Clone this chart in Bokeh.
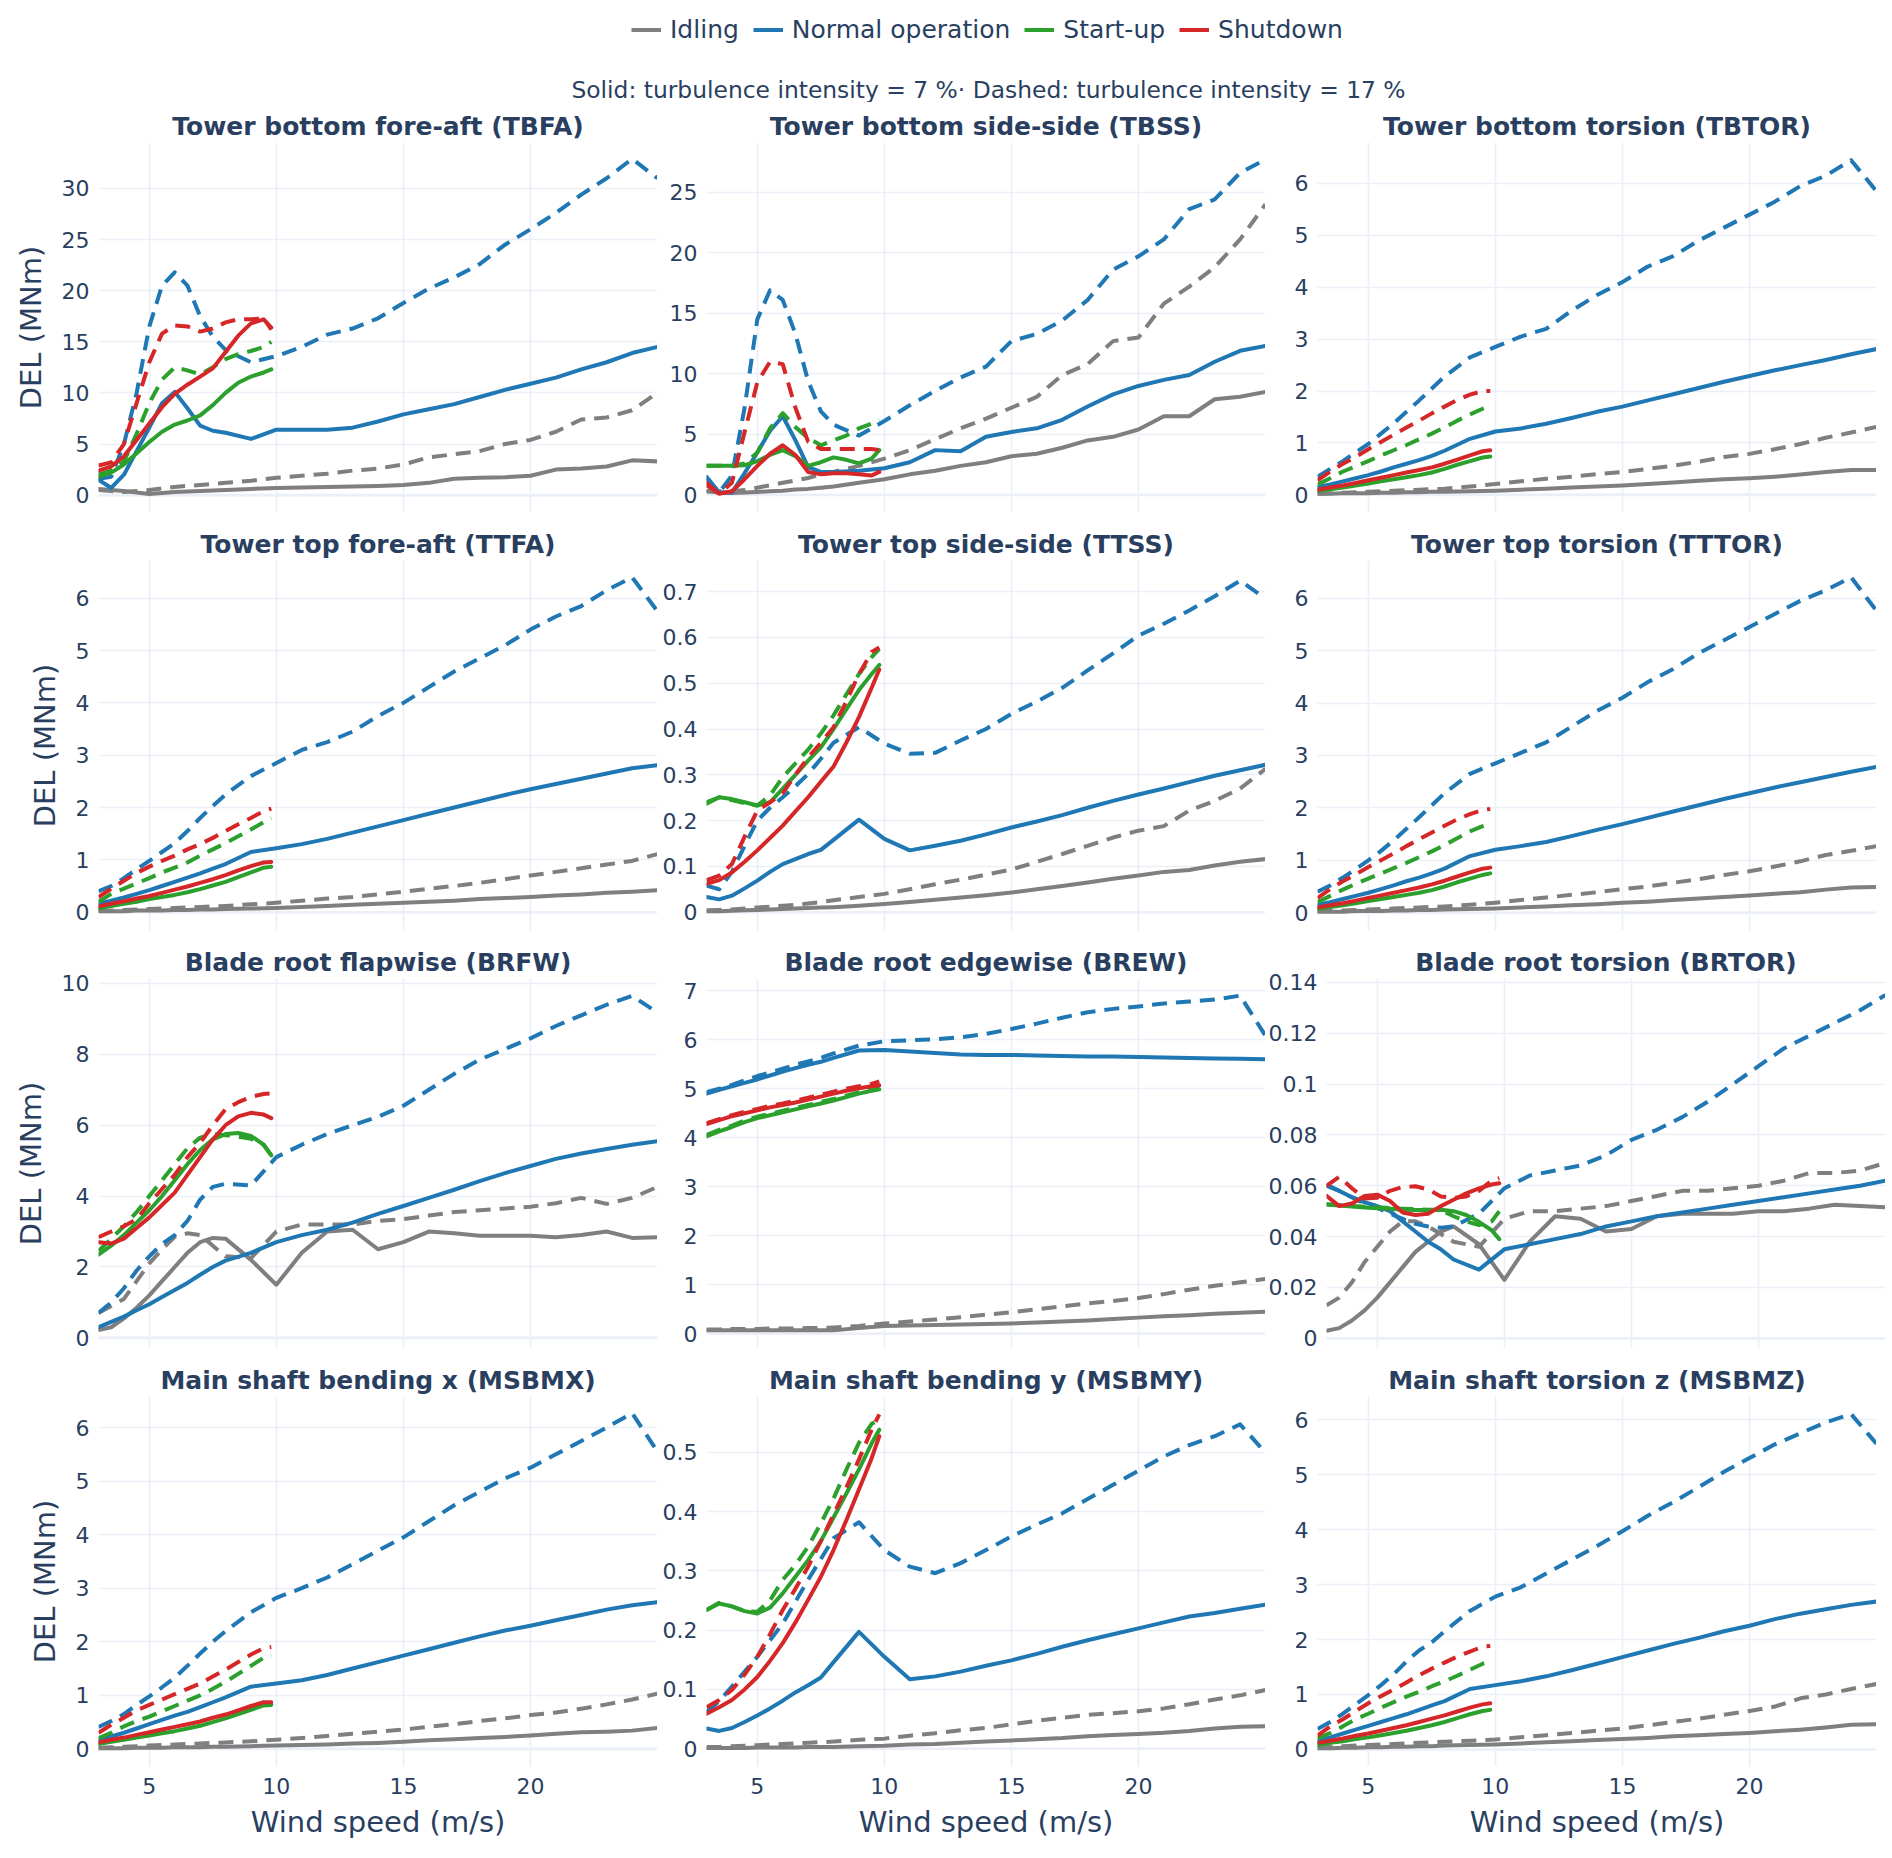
from bokeh.plotting import figure
from bokeh.layouts import column, row
from bokeh.models import (Range1d, FixedTicker, NumeralTickFormatter, Legend,
                          LegendItem, Label, Span)
from bokeh.embed import file_html
from bokeh.resources import INLINE

# ---------------- data ----------------
WS = [3, 3.5, 4, 4.5, 5, 5.5, 6, 6.5, 7, 7.5, 8, 9, 10, 11, 12, 13, 14, 15, 16, 17, 18, 19, 20, 21, 22, 23, 24, 25]
WT = [3, 3.5, 4, 4.5, 5, 5.5, 6, 6.5, 7, 7.5, 8, 8.5, 9, 9.5, 9.8]

MODES = ["Idling", "Normal operation", "Start-up", "Shutdown"]
COLORS = ["#7f7f7f", "#1f77b4", "#2ca02c", "#d62728"]

PANEL_KEYS = ["TBFA", "TBSS", "TBTOR", "TTFA", "TTSS", "TTTOR",
              "BRFW", "BREW", "BRTOR", "MSBMX", "MSBMY", "MSBMZ"]
PANEL_TITLES = ["Tower bottom fore-aft (TBFA)", "Tower bottom side-side (TBSS)",
                "Tower bottom torsion (TBTOR)", "Tower top fore-aft (TTFA)",
                "Tower top side-side (TTSS)", "Tower top torsion (TTTOR)",
                "Blade root flapwise (BRFW)", "Blade root edgewise (BREW)",
                "Blade root torsion (BRTOR)", "Main shaft bending x (MSBMX)",
                "Main shaft bending y (MSBMY)", "Main shaft torsion z (MSBMZ)"]
Y_RANGES = [(-1.7, 34.5), (-1.45, 29.1), (-0.34, 6.79),
            (-0.35, 6.72), (-0.04, 0.768), (-0.34, 6.72),
            (-0.3, 10.14), (-0.3, 7.25), (-0.004, 0.1415),
            (-0.33, 6.58), (-0.03, 0.594), (-0.31, 6.42)]
Y_TICKS = [[0, 5, 10, 15, 20, 25, 30], [0, 5, 10, 15, 20, 25], [0, 1, 2, 3, 4, 5, 6],
           [0, 1, 2, 3, 4, 5, 6], [0, 0.1, 0.2, 0.3, 0.4, 0.5, 0.6, 0.7], [0, 1, 2, 3, 4, 5, 6],
           [0, 2, 4, 6, 8, 10], [0, 1, 2, 3, 4, 5, 6, 7], [0, 0.02, 0.04, 0.06, 0.08, 0.1, 0.12, 0.14],
           [0, 1, 2, 3, 4, 5, 6], [0, 0.1, 0.2, 0.3, 0.4, 0.5], [0, 1, 2, 3, 4, 5, 6]]
X_TICKS = [5, 10, 15, 20]

SUBTITLE = "Solid: turbulence intensity = 7 %\u00b7 Dashed: turbulence intensity = 17 %"
X_LABEL = "Wind speed (m/s)"
Y_LABEL = "DEL (MNm)"

# TBFA
TBFA_IDL7 = [0.6, 0.5, 0.4, 0.25, 0.1, 0.2, 0.3, 0.35, 0.4, 0.45, 0.5, 0.6, 0.7, 0.75, 0.8, 0.85, 0.9, 1.0, 1.2, 1.6, 1.7, 1.75, 1.9, 2.5, 2.6, 2.8, 3.4, 3.3]
TBFA_IDL17 = [0.5, 0.4, 0.3, 0.4, 0.5, 0.65, 0.8, 0.9, 1.0, 1.1, 1.2, 1.4, 1.7, 1.9, 2.1, 2.4, 2.6, 3.0, 3.7, 4.0, 4.3, 5.0, 5.4, 6.2, 7.4, 7.6, 8.3, 10.0]
TBFA_NOR7 = [1.5, 0.7, 2.0, 4.3, 6.6, 9.0, 10.1, 8.5, 6.8, 6.3, 6.1, 5.5, 6.4, 6.4, 6.4, 6.6, 7.2, 7.9, 8.4, 8.9, 9.6, 10.3, 10.9, 11.5, 12.3, 13.0, 13.9, 14.5]
TBFA_NOR17 = [1.6, 1.8, 5.0, 10.0, 16.5, 20.5, 21.8, 20.5, 17.5, 15.5, 14.2, 13.0, 13.6, 14.5, 15.7, 16.3, 17.3, 18.8, 20.2, 21.3, 22.6, 24.5, 26.0, 27.6, 29.4, 31.0, 32.9, 31.0]
TBFA_SU7 = [1.8, 2.2, 3.0, 4.1, 5.2, 6.2, 6.9, 7.3, 7.8, 8.8, 10.0, 11.0, 11.6, 12.0, 12.3]
TBFA_SU17 = [2.0, 2.4, 3.3, 6.0, 9.0, 11.3, 12.5, 12.2, 11.8, 12.5, 13.3, 13.8, 14.1, 14.5, 15.0]
TBFA_SD7 = [2.4, 2.8, 3.8, 5.4, 7.0, 8.6, 9.9, 10.8, 11.6, 12.4, 14.0, 15.6, 16.8, 17.2, 16.4]
TBFA_SD17 = [2.9, 3.2, 5.0, 9.0, 13.0, 15.8, 16.6, 16.5, 16.0, 16.3, 16.9, 17.2, 17.2, 17.3, 16.2]

# TBSS
TBSS_IDL7 = [0.3, 0.2, 0.15, 0.2, 0.25, 0.3, 0.35, 0.45, 0.5, 0.6, 0.7, 1.0, 1.3, 1.7, 2.0, 2.4, 2.7, 3.2, 3.4, 3.9, 4.5, 4.8, 5.4, 6.5, 6.5, 7.9, 8.1, 8.5]
TBSS_IDL17 = [0.3, 0.3, 0.3, 0.4, 0.6, 0.8, 1.0, 1.2, 1.4, 1.7, 1.9, 2.4, 3.0, 3.7, 4.6, 5.5, 6.3, 7.2, 8.1, 9.9, 10.8, 12.7, 13.0, 15.8, 17.2, 18.8, 21.1, 24.0]
TBSS_NOR7 = [1.5, 0.2, 0.2, 1.8, 3.5, 5.3, 6.5, 4.5, 2.3, 1.9, 1.9, 2.0, 2.2, 2.7, 3.7, 3.6, 4.8, 5.2, 5.5, 6.2, 7.3, 8.3, 9.0, 9.5, 9.9, 11.0, 11.9, 12.3]
TBSS_NOR17 = [1.4, 0.2, 1.6, 7.2, 14.5, 16.9, 16.1, 13.3, 9.4, 6.9, 5.8, 4.9, 6.1, 7.4, 8.6, 9.7, 10.6, 12.7, 13.3, 14.4, 16.1, 18.6, 19.7, 21.1, 23.6, 24.4, 26.6, 27.7]
TBSS_SU7 = [2.4, 2.4, 2.4, 2.45, 2.8, 3.3, 3.7, 3.2, 2.4, 2.7, 3.1, 2.9, 2.6, 3.0, 3.7]
TBSS_SU17 = [2.4, 2.4, 2.4, 2.6, 3.5, 5.5, 6.75, 5.6, 4.7, 4.1, 4.5, 4.9, 5.5, 5.9, 6.2]
TBSS_SD7 = [1.0, 0.1, 0.3, 1.3, 2.4, 3.4, 4.1, 3.3, 1.9, 1.7, 1.8, 1.8, 1.7, 1.6, 1.9]
TBSS_SD17 = [0.8, 0.1, 1.0, 5.2, 9.3, 11.0, 10.8, 7.2, 4.4, 3.8, 3.8, 3.8, 3.8, 3.8, 3.7]

# TBTOR
TBTOR_IDL7 = [0.02, 0.02, 0.03, 0.03, 0.03, 0.04, 0.04, 0.05, 0.05, 0.06, 0.06, 0.07, 0.08, 0.1, 0.12, 0.14, 0.16, 0.18, 0.21, 0.24, 0.27, 0.3, 0.32, 0.35, 0.39, 0.44, 0.48, 0.48]
TBTOR_IDL17 = [0.02, 0.03, 0.04, 0.05, 0.06, 0.07, 0.08, 0.09, 0.1, 0.11, 0.12, 0.16, 0.21, 0.26, 0.31, 0.35, 0.4, 0.44, 0.5, 0.56, 0.64, 0.73, 0.79, 0.88, 0.98, 1.1, 1.2, 1.31]
TBTOR_NOR7 = [0.15, 0.2, 0.26, 0.32, 0.38, 0.45, 0.53, 0.6, 0.67, 0.75, 0.85, 1.08, 1.22, 1.28, 1.37, 1.48, 1.6, 1.7, 1.82, 1.94, 2.06, 2.18, 2.29, 2.4, 2.5, 2.6, 2.71, 2.81]
TBTOR_NOR17 = [0.35, 0.5, 0.65, 0.82, 0.98, 1.18, 1.38, 1.6, 1.82, 2.05, 2.28, 2.65, 2.85, 3.05, 3.2, 3.55, 3.85, 4.1, 4.4, 4.6, 4.9, 5.15, 5.4, 5.65, 5.95, 6.15, 6.45, 5.85]
TBTOR_SU7 = [0.08, 0.11, 0.14, 0.18, 0.22, 0.26, 0.3, 0.34, 0.38, 0.43, 0.5, 0.58, 0.65, 0.72, 0.74]
TBTOR_SU17 = [0.2, 0.32, 0.45, 0.55, 0.65, 0.76, 0.86, 0.96, 1.07, 1.18, 1.3, 1.43, 1.55, 1.66, 1.72]
TBTOR_SD7 = [0.1, 0.14, 0.18, 0.23, 0.28, 0.33, 0.38, 0.43, 0.48, 0.53, 0.6, 0.68, 0.76, 0.84, 0.86]
TBTOR_SD17 = [0.28, 0.45, 0.6, 0.73, 0.88, 1.02, 1.16, 1.3, 1.43, 1.57, 1.7, 1.83, 1.93, 2.0, 2.0]

# TTFA
TTFA_IDL7 = [0.02, 0.02, 0.02, 0.03, 0.03, 0.03, 0.04, 0.04, 0.05, 0.05, 0.06, 0.07, 0.08, 0.1, 0.12, 0.14, 0.16, 0.18, 0.2, 0.22, 0.25, 0.27, 0.29, 0.32, 0.34, 0.37, 0.39, 0.42]
TTFA_IDL17 = [0.03, 0.03, 0.04, 0.05, 0.06, 0.07, 0.08, 0.09, 0.1, 0.11, 0.12, 0.15, 0.18, 0.22, 0.26, 0.29, 0.34, 0.39, 0.45, 0.5, 0.56, 0.63, 0.7, 0.77, 0.84, 0.91, 0.98, 1.11]
TTFA_NOR7 = [0.16, 0.22, 0.28, 0.35, 0.42, 0.5, 0.58, 0.66, 0.74, 0.83, 0.92, 1.15, 1.22, 1.3, 1.4, 1.52, 1.64, 1.76, 1.88, 2.0, 2.12, 2.24, 2.35, 2.45, 2.55, 2.65, 2.75, 2.81]
TTFA_NOR17 = [0.4, 0.5, 0.65, 0.82, 0.98, 1.15, 1.32, 1.55, 1.8, 2.03, 2.25, 2.6, 2.85, 3.1, 3.25, 3.45, 3.75, 4.0, 4.3, 4.6, 4.85, 5.1, 5.4, 5.65, 5.85, 6.15, 6.4, 5.75]
TTFA_SU7 = [0.07, 0.12, 0.16, 0.2, 0.25, 0.29, 0.33, 0.38, 0.44, 0.51, 0.58, 0.67, 0.76, 0.85, 0.87]
TTFA_SU17 = [0.2, 0.35, 0.45, 0.55, 0.65, 0.76, 0.85, 0.95, 1.08, 1.2, 1.32, 1.45, 1.58, 1.72, 1.8]
TTFA_SD7 = [0.11, 0.16, 0.21, 0.26, 0.31, 0.37, 0.43, 0.49, 0.56, 0.63, 0.71, 0.8, 0.88, 0.95, 0.96]
TTFA_SD17 = [0.29, 0.45, 0.6, 0.75, 0.87, 0.98, 1.08, 1.2, 1.3, 1.42, 1.55, 1.68, 1.8, 1.93, 1.98]

# TTSS
TTSS_IDL7 = [0.002, 0.002, 0.003, 0.004, 0.005, 0.006, 0.007, 0.008, 0.009, 0.01, 0.011, 0.014, 0.018, 0.022, 0.027, 0.032, 0.037, 0.043, 0.05, 0.057, 0.065, 0.073, 0.08, 0.088, 0.092, 0.102, 0.11, 0.116]
TTSS_IDL17 = [0.004, 0.005, 0.006, 0.008, 0.01, 0.012, 0.014, 0.016, 0.019, 0.022, 0.026, 0.033, 0.04, 0.05, 0.061, 0.071, 0.082, 0.093, 0.11, 0.127, 0.145, 0.163, 0.178, 0.188, 0.222, 0.243, 0.27, 0.313]
TTSS_NOR7 = [0.033, 0.028, 0.036, 0.052, 0.069, 0.088, 0.105, 0.116, 0.127, 0.136, 0.158, 0.202, 0.16, 0.135, 0.145, 0.156, 0.17, 0.185, 0.198, 0.212, 0.228, 0.243, 0.257, 0.27, 0.284, 0.298, 0.31, 0.322]
TTSS_NOR17 = [0.058, 0.05, 0.088, 0.145, 0.2, 0.228, 0.251, 0.275, 0.302, 0.335, 0.37, 0.404, 0.368, 0.346, 0.348, 0.375, 0.4, 0.433, 0.46, 0.49, 0.528, 0.565, 0.604, 0.63, 0.659, 0.69, 0.724, 0.685]
TTSS_SU7 = [0.237, 0.251, 0.247, 0.24, 0.233, 0.24, 0.27, 0.3, 0.331, 0.36, 0.4, 0.443, 0.485, 0.52, 0.54]
TTSS_SU17 = [0.24, 0.251, 0.245, 0.238, 0.233, 0.255, 0.295, 0.325, 0.355, 0.39, 0.43, 0.475, 0.52, 0.557, 0.575]
TTSS_SD7 = [0.062, 0.07, 0.087, 0.11, 0.135, 0.162, 0.189, 0.22, 0.251, 0.285, 0.318, 0.37, 0.426, 0.49, 0.53]
TTSS_SD17 = [0.07, 0.08, 0.105, 0.165, 0.222, 0.24, 0.26, 0.3, 0.338, 0.37, 0.404, 0.46, 0.52, 0.568, 0.578]

# TTTOR
TTTOR_IDL7 = [0.02, 0.02, 0.02, 0.03, 0.03, 0.03, 0.04, 0.04, 0.05, 0.05, 0.06, 0.07, 0.08, 0.1, 0.12, 0.14, 0.16, 0.19, 0.21, 0.24, 0.27, 0.3, 0.33, 0.36, 0.39, 0.44, 0.48, 0.49]
TTTOR_IDL17 = [0.03, 0.03, 0.04, 0.05, 0.06, 0.07, 0.08, 0.09, 0.1, 0.11, 0.12, 0.15, 0.19, 0.24, 0.29, 0.34, 0.39, 0.45, 0.5, 0.57, 0.64, 0.72, 0.79, 0.88, 0.98, 1.1, 1.18, 1.27]
TTTOR_NOR7 = [0.15, 0.2, 0.26, 0.32, 0.38, 0.45, 0.52, 0.6, 0.67, 0.75, 0.84, 1.08, 1.2, 1.27, 1.35, 1.46, 1.58, 1.69, 1.81, 1.93, 2.05, 2.17, 2.28, 2.39, 2.49, 2.59, 2.69, 2.78]
TTTOR_NOR17 = [0.4, 0.52, 0.67, 0.83, 1.0, 1.18, 1.38, 1.6, 1.82, 2.05, 2.28, 2.65, 2.85, 3.05, 3.25, 3.55, 3.85, 4.1, 4.4, 4.65, 4.95, 5.2, 5.45, 5.7, 5.95, 6.15, 6.4, 5.76]
TTTOR_SU7 = [0.07, 0.11, 0.14, 0.18, 0.22, 0.26, 0.3, 0.34, 0.38, 0.43, 0.5, 0.58, 0.65, 0.72, 0.75]
TTTOR_SU17 = [0.2, 0.32, 0.44, 0.55, 0.65, 0.75, 0.85, 0.95, 1.06, 1.17, 1.29, 1.42, 1.55, 1.65, 1.7]
TTTOR_SD7 = [0.1, 0.14, 0.18, 0.23, 0.28, 0.33, 0.38, 0.43, 0.48, 0.54, 0.61, 0.69, 0.77, 0.84, 0.86]
TTTOR_SD17 = [0.28, 0.45, 0.6, 0.73, 0.87, 1.0, 1.13, 1.27, 1.4, 1.53, 1.66, 1.78, 1.88, 1.96, 1.98]

# BRFW
BRFW_IDL7 = [0.22, 0.3, 0.55, 0.85, 1.2, 1.6, 2.0, 2.4, 2.7, 2.82, 2.8, 2.2, 1.5, 2.4, 3.0, 3.05, 2.5, 2.7, 3.0, 2.95, 2.88, 2.88, 2.88, 2.84, 2.9, 3.0, 2.82, 2.84]
BRFW_IDL17 = [0.7, 0.9, 1.1, 1.6, 2.1, 2.5, 2.85, 2.95, 2.9, 2.6, 2.3, 2.25, 3.0, 3.2, 3.2, 3.2, 3.3, 3.35, 3.45, 3.55, 3.6, 3.65, 3.7, 3.8, 3.95, 3.78, 3.95, 4.26]
BRFW_NOR7 = [0.3, 0.45, 0.6, 0.78, 0.95, 1.15, 1.35, 1.55, 1.78, 2.0, 2.18, 2.4, 2.7, 2.9, 3.05, 3.25, 3.5, 3.72, 3.95, 4.18, 4.42, 4.65, 4.85, 5.05, 5.2, 5.33, 5.45, 5.55]
BRFW_NOR17 = [0.7, 1.0, 1.4, 1.9, 2.3, 2.65, 2.9, 3.3, 3.9, 4.26, 4.35, 4.3, 5.1, 5.45, 5.75, 6.0, 6.24, 6.55, 7.0, 7.45, 7.85, 8.15, 8.45, 8.8, 9.1, 9.4, 9.65, 9.18]
BRFW_SU7 = [2.35, 2.6, 2.9, 3.25, 3.6, 4.0, 4.45, 4.9, 5.3, 5.6, 5.75, 5.78, 5.7, 5.45, 5.15]
BRFW_SU17 = [2.45, 2.8, 3.15, 3.55, 4.0, 4.45, 4.9, 5.35, 5.65, 5.75, 5.72, 5.68, 5.62, 5.45, 5.15]
BRFW_SD7 = [2.7, 2.66, 2.8, 3.1, 3.4, 3.75, 4.1, 4.6, 5.1, 5.6, 6.0, 6.25, 6.35, 6.3, 6.2]
BRFW_SD17 = [2.84, 3.0, 3.15, 3.35, 3.8, 4.2, 4.6, 5.1, 5.5, 6.0, 6.45, 6.65, 6.8, 6.88, 6.9]

# BREW
BREW_IDL7 = [0.07, 0.07, 0.07, 0.07, 0.07, 0.07, 0.07, 0.07, 0.07, 0.07, 0.07, 0.12, 0.16, 0.17, 0.18, 0.19, 0.2, 0.21, 0.23, 0.25, 0.27, 0.3, 0.33, 0.36, 0.38, 0.41, 0.43, 0.45]
BREW_IDL17 = [0.09, 0.09, 0.1, 0.1, 0.1, 0.11, 0.11, 0.11, 0.12, 0.12, 0.13, 0.16, 0.21, 0.25, 0.29, 0.34, 0.39, 0.44, 0.5, 0.56, 0.62, 0.67, 0.73, 0.81, 0.9, 0.98, 1.05, 1.12]
BREW_NOR7 = [4.9, 4.98, 5.05, 5.12, 5.19, 5.27, 5.35, 5.42, 5.49, 5.55, 5.63, 5.78, 5.79, 5.76, 5.73, 5.7, 5.69, 5.69, 5.68, 5.67, 5.66, 5.66, 5.65, 5.64, 5.63, 5.62, 5.61, 5.6]
BREW_NOR17 = [4.93, 5.0, 5.08, 5.17, 5.26, 5.33, 5.41, 5.49, 5.56, 5.63, 5.72, 5.88, 5.97, 5.99, 6.01, 6.05, 6.12, 6.22, 6.33, 6.45, 6.56, 6.63, 6.68, 6.74, 6.78, 6.82, 6.9, 6.08]
BREW_SU7 = [4.03, 4.13, 4.22, 4.32, 4.4, 4.46, 4.52, 4.58, 4.64, 4.7, 4.76, 4.83, 4.9, 4.96, 4.99]
BREW_SU17 = [4.06, 4.16, 4.25, 4.35, 4.43, 4.49, 4.55, 4.61, 4.67, 4.73, 4.79, 4.86, 4.93, 4.99, 5.02]
BREW_SD7 = [4.28, 4.36, 4.44, 4.5, 4.56, 4.62, 4.67, 4.72, 4.78, 4.84, 4.9, 4.96, 5.01, 5.05, 5.07]
BREW_SD17 = [4.3, 4.38, 4.46, 4.53, 4.59, 4.65, 4.7, 4.76, 4.82, 4.88, 4.94, 5.0, 5.05, 5.1, 5.15]

# BRTOR
BRTOR_IDL7 = [0.003, 0.004, 0.007, 0.011, 0.016, 0.022, 0.028, 0.034, 0.038, 0.042, 0.044, 0.037, 0.023, 0.038, 0.048, 0.047, 0.042, 0.043, 0.048, 0.049, 0.049, 0.049, 0.05, 0.05, 0.051, 0.0525, 0.052, 0.0515]
BRTOR_IDL17 = [0.013, 0.016, 0.022, 0.03, 0.036, 0.042, 0.046, 0.046, 0.044, 0.041, 0.038, 0.036, 0.047, 0.05, 0.05, 0.051, 0.052, 0.054, 0.056, 0.058, 0.058, 0.059, 0.06, 0.062, 0.065, 0.065, 0.066, 0.069]
BRTOR_NOR7 = [0.06, 0.058, 0.0555, 0.0535, 0.052, 0.05, 0.046, 0.042, 0.038, 0.035, 0.031, 0.027, 0.035, 0.037, 0.039, 0.041, 0.044, 0.046, 0.048, 0.0495, 0.051, 0.0525, 0.054, 0.0555, 0.057, 0.0585, 0.06, 0.062]
BRTOR_NOR17 = [0.0605, 0.058, 0.0555, 0.053, 0.0513, 0.049, 0.047, 0.045, 0.044, 0.0435, 0.044, 0.049, 0.059, 0.064, 0.066, 0.068, 0.072, 0.078, 0.082, 0.087, 0.093, 0.1, 0.107, 0.114, 0.119, 0.124, 0.129, 0.135]
BRTOR_SU7 = [0.0526, 0.0522, 0.0518, 0.0514, 0.0512, 0.051, 0.0506, 0.0505, 0.0505, 0.0506, 0.05, 0.0485, 0.0458, 0.0425, 0.039]
BRTOR_SU17 = [0.0527, 0.0524, 0.052, 0.0517, 0.0515, 0.0512, 0.051, 0.0508, 0.0506, 0.0505, 0.048, 0.046, 0.0445, 0.046, 0.05]
BRTOR_SD7 = [0.056, 0.052, 0.053, 0.056, 0.0565, 0.054, 0.0495, 0.0485, 0.049, 0.052, 0.0545, 0.057, 0.059, 0.0605, 0.061]
BRTOR_SD17 = [0.06, 0.0635, 0.059, 0.055, 0.0553, 0.058, 0.0595, 0.0598, 0.0585, 0.0558, 0.0552, 0.0558, 0.058, 0.062, 0.063]

# MSBMX
MSBMX_IDL7 = [0.01, 0.01, 0.01, 0.02, 0.02, 0.02, 0.03, 0.03, 0.03, 0.04, 0.04, 0.05, 0.06, 0.07, 0.08, 0.1, 0.11, 0.13, 0.16, 0.18, 0.2, 0.22, 0.25, 0.28, 0.31, 0.32, 0.34, 0.39]
MSBMX_IDL17 = [0.02, 0.03, 0.04, 0.05, 0.06, 0.07, 0.08, 0.09, 0.1, 0.11, 0.12, 0.14, 0.17, 0.2, 0.24, 0.28, 0.32, 0.36, 0.41, 0.46, 0.52, 0.57, 0.63, 0.68, 0.75, 0.83, 0.92, 1.03]
MSBMX_NOR7 = [0.16, 0.23, 0.3, 0.38, 0.46, 0.54, 0.62, 0.69, 0.78, 0.87, 0.96, 1.16, 1.22, 1.28, 1.38, 1.5, 1.62, 1.74, 1.86, 1.98, 2.1, 2.21, 2.3, 2.4, 2.5, 2.6, 2.68, 2.74]
MSBMX_NOR17 = [0.41, 0.52, 0.65, 0.82, 0.98, 1.15, 1.33, 1.55, 1.78, 2.0, 2.2, 2.55, 2.82, 3.0, 3.2, 3.45, 3.7, 3.95, 4.25, 4.55, 4.8, 5.05, 5.25, 5.5, 5.75, 6.0, 6.27, 5.55]
MSBMX_SU7 = [0.09, 0.13, 0.17, 0.21, 0.25, 0.29, 0.33, 0.38, 0.43, 0.5, 0.57, 0.65, 0.73, 0.81, 0.82]
MSBMX_SU17 = [0.2, 0.3, 0.42, 0.52, 0.6, 0.7, 0.8, 0.9, 1.0, 1.12, 1.25, 1.4, 1.55, 1.7, 1.75]
MSBMX_SD7 = [0.12, 0.17, 0.21, 0.26, 0.31, 0.36, 0.41, 0.46, 0.51, 0.58, 0.64, 0.72, 0.8, 0.87, 0.87]
MSBMX_SD17 = [0.3, 0.45, 0.58, 0.72, 0.82, 0.92, 1.02, 1.12, 1.22, 1.35, 1.48, 1.62, 1.76, 1.88, 1.9]

# MSBMY
MSBMY_IDL7 = [0.001, 0.001, 0.001, 0.001, 0.002, 0.002, 0.002, 0.002, 0.003, 0.003, 0.003, 0.004, 0.005, 0.007, 0.008, 0.01, 0.012, 0.014, 0.016, 0.018, 0.021, 0.023, 0.025, 0.027, 0.03, 0.034, 0.037, 0.038]
MSBMY_IDL17 = [0.003, 0.003, 0.004, 0.005, 0.006, 0.007, 0.008, 0.009, 0.01, 0.011, 0.012, 0.015, 0.017, 0.022, 0.026, 0.031, 0.035, 0.041, 0.047, 0.052, 0.057, 0.06, 0.063, 0.068, 0.075, 0.083, 0.09, 0.099]
MSBMY_NOR7 = [0.034, 0.03, 0.035, 0.045, 0.056, 0.068, 0.081, 0.095, 0.107, 0.12, 0.146, 0.197, 0.155, 0.117, 0.122, 0.13, 0.14, 0.149, 0.16, 0.172, 0.183, 0.193, 0.203, 0.213, 0.223, 0.229, 0.236, 0.243]
MSBMY_NOR17 = [0.062, 0.08, 0.105, 0.13, 0.155, 0.183, 0.211, 0.248, 0.285, 0.32, 0.355, 0.382, 0.335, 0.307, 0.296, 0.313, 0.335, 0.358, 0.378, 0.397, 0.421, 0.445, 0.469, 0.493, 0.512, 0.527, 0.547, 0.499]
MSBMY_SU7 = [0.234, 0.245, 0.24, 0.232, 0.228, 0.238, 0.262, 0.29, 0.318, 0.35, 0.39, 0.43, 0.471, 0.515, 0.538]
MSBMY_SU17 = [0.234, 0.246, 0.24, 0.232, 0.231, 0.25, 0.285, 0.31, 0.341, 0.38, 0.422, 0.47, 0.516, 0.548, 0.555]
MSBMY_SD7 = [0.059, 0.07, 0.082, 0.1, 0.121, 0.148, 0.178, 0.213, 0.251, 0.29, 0.335, 0.385, 0.437, 0.49, 0.527]
MSBMY_SD17 = [0.07, 0.082, 0.099, 0.125, 0.155, 0.193, 0.234, 0.27, 0.307, 0.35, 0.395, 0.44, 0.488, 0.538, 0.564]

# MSBMZ
MSBMZ_IDL7 = [0.02, 0.02, 0.03, 0.03, 0.04, 0.04, 0.05, 0.05, 0.06, 0.06, 0.07, 0.08, 0.09, 0.11, 0.13, 0.15, 0.17, 0.19, 0.21, 0.24, 0.26, 0.28, 0.3, 0.33, 0.36, 0.4, 0.45, 0.46]
MSBMZ_IDL17 = [0.04, 0.05, 0.06, 0.07, 0.08, 0.09, 0.1, 0.11, 0.12, 0.13, 0.14, 0.16, 0.18, 0.22, 0.26, 0.3, 0.34, 0.38, 0.44, 0.5, 0.56, 0.63, 0.7, 0.78, 0.93, 1.0, 1.1, 1.19]
MSBMZ_NOR7 = [0.16, 0.22, 0.29, 0.36, 0.43, 0.5, 0.57, 0.64, 0.72, 0.8, 0.88, 1.1, 1.17, 1.24, 1.33, 1.44, 1.56, 1.68, 1.8, 1.92, 2.03, 2.15, 2.25, 2.37, 2.47, 2.55, 2.63, 2.69]
MSBMZ_NOR17 = [0.37, 0.5, 0.65, 0.82, 0.99, 1.17, 1.37, 1.6, 1.8, 1.95, 2.15, 2.52, 2.78, 2.95, 3.2, 3.45, 3.7, 3.97, 4.25, 4.5, 4.77, 5.05, 5.3, 5.55, 5.75, 5.95, 6.1, 5.56]
MSBMZ_SU7 = [0.08, 0.12, 0.15, 0.19, 0.22, 0.26, 0.3, 0.34, 0.39, 0.44, 0.5, 0.57, 0.64, 0.7, 0.72]
MSBMZ_SU17 = [0.2, 0.3, 0.42, 0.55, 0.65, 0.76, 0.86, 0.96, 1.05, 1.15, 1.24, 1.34, 1.45, 1.56, 1.61]
MSBMZ_SD7 = [0.12, 0.16, 0.2, 0.25, 0.29, 0.34, 0.39, 0.44, 0.5, 0.56, 0.62, 0.69, 0.76, 0.82, 0.84]
MSBMZ_SD17 = [0.25, 0.42, 0.55, 0.7, 0.84, 0.97, 1.09, 1.22, 1.35, 1.47, 1.58, 1.69, 1.78, 1.87, 1.88]

# table built from the arrays above
DATA = {}
for key in PANEL_KEYS:
    g = globals()
    DATA[key] = [(g[key + "_IDL7"], g[key + "_IDL17"]),
                 (g[key + "_NOR7"], g[key + "_NOR17"]),
                 (g[key + "_SU7"], g[key + "_SU17"]),
                 (g[key + "_SD7"], g[key + "_SD17"])]

# ---------------- styling ----------------
TEXT = "#2a3f5f"
GRID = "#ebf0f8"
FONT = "DejaVu Sans"
LW = 4
DASH = "15 9"
FRAME_W, FRAME_H = 559, 370
LEFT_BORDERS = [98, 49, 52]


def make_panel(i):
    r, c = divmod(i, 3)
    key = PANEL_KEYS[i]
    bottom = 80 if r == 3 else 8
    p = figure(frame_width=FRAME_W, frame_height=FRAME_H,
               x_range=Range1d(3, 25), y_range=Range1d(*Y_RANGES[i]),
               output_backend="svg", toolbar_location=None, tools="",
               min_border_left=LEFT_BORDERS[c], min_border_right=0,
               min_border_top=40, min_border_bottom=bottom,
               title=PANEL_TITLES[i])
    p.outline_line_color = None
    p.background_fill_color = "white"
    p.border_fill_color = "white"

    p.title.align = "center"
    p.title.text_font = FONT
    p.title.text_font_size = "25px"
    p.title.text_font_style = "bold"
    p.title.text_color = TEXT
    p.title.standoff = 3

    p.xgrid.ticker = FixedTicker(ticks=X_TICKS)
    p.ygrid.ticker = FixedTicker(ticks=Y_TICKS[i])
    for g in (p.xgrid, p.ygrid):
        g.grid_line_color = GRID
        g.grid_line_width = 1.7
    p.add_layout(Span(location=0, dimension="width", line_color=GRID,
                      line_width=2.6, level="underlay"))

    # x axis
    xa = p.xaxis[0]
    xa.ticker = FixedTicker(ticks=X_TICKS)
    xa.axis_line_color = None
    xa.major_tick_line_color = None
    xa.minor_tick_line_color = None
    if r == 3:
        xa.major_label_text_font = FONT
        xa.major_label_text_font_size = "22px"
        xa.major_label_text_color = TEXT
        xa.major_label_standoff = 5
        xa.axis_label = X_LABEL
        xa.axis_label_text_font = FONT
        xa.axis_label_text_font_size = "29px"
        xa.axis_label_text_font_style = "normal"
        xa.axis_label_text_color = TEXT
        xa.axis_label_standoff = 8
    else:
        xa.visible = False

    # y axis
    ya = p.yaxis[0]
    ya.ticker = FixedTicker(ticks=Y_TICKS[i])
    ya.formatter = NumeralTickFormatter(format="0.[00]")
    ya.axis_line_color = None
    ya.major_tick_line_color = None
    ya.minor_tick_line_color = None
    ya.major_label_text_font = FONT
    ya.major_label_text_font_size = "22px"
    ya.major_label_text_color = TEXT
    ya.major_label_standoff = 3
    if c == 0:
        ya.axis_label = Y_LABEL
        ya.axis_label_text_font = FONT
        ya.axis_label_text_font_size = "29px"
        ya.axis_label_text_font_style = "normal"
        ya.axis_label_text_color = TEXT
        ya.axis_label_standoff = 11

    for m, (solid, dashed) in enumerate(DATA[key]):
        xs = WS if m < 2 else WT
        p.line(xs, solid, line_color=COLORS[m], line_width=LW,
               line_join="round", line_cap="round")
        p.line(xs, dashed, line_color=COLORS[m], line_width=LW,
               line_join="round", line_dash=DASH)
    return p


panels = [make_panel(i) for i in range(12)]

# ---------------- header with legend + subtitle ----------------
TOTAL_W = sum(LEFT_BORDERS) + 3 * FRAME_W
HEAD_H = 102
head = figure(width=TOTAL_W, height=HEAD_H, x_range=Range1d(0, 1), y_range=Range1d(0, 1),
              output_backend="svg", toolbar_location=None, tools="",
              x_axis_location=None, y_axis_location=None, min_border=0)
head.outline_line_color = None
head.grid.visible = False
items = []
for m, name in enumerate(MODES):
    rr = head.line([-5, -4], [-5, -5], line_color=COLORS[m], line_width=LW)
    items.append(LegendItem(label=name, renderers=[rr]))
legend = Legend(items=items, orientation="horizontal", location=(631, 58),
                glyph_width=30, glyph_height=29, label_height=29,
                label_standoff=9, spacing=14, padding=0, margin=0,
                border_line_color=None, background_fill_alpha=0,
                label_text_font=FONT, label_text_font_size="25px",
                label_text_color=TEXT)
head.add_layout(legend)
head.add_layout(Label(x=988, y=13, x_units="screen", y_units="screen", text=SUBTITLE,
                      text_align="center", text_baseline="middle", text_font=FONT,
                      text_font_size="23.4px", text_color=TEXT))

layout = column(head,
                row(*panels[0:3]), row(*panels[3:6]),
                row(*panels[6:9]), row(*panels[9:12]))

open("out.html", "w").write(file_html(layout, INLINE, title="DEL"))
